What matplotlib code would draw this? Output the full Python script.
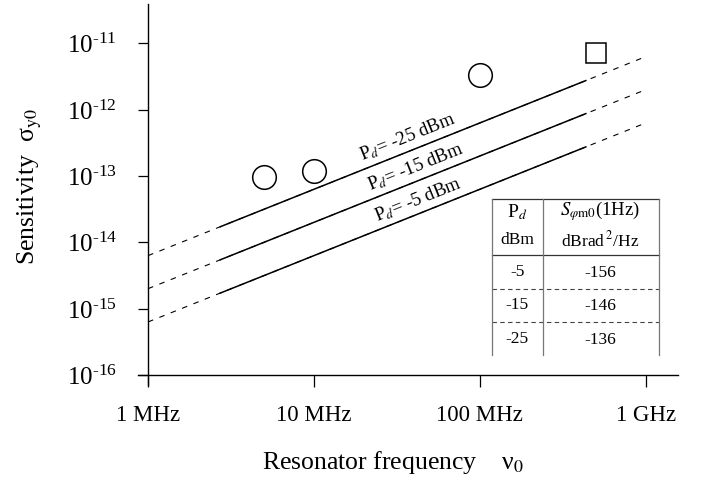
import numpy as np
import matplotlib
matplotlib.use("Agg")
import matplotlib.pyplot as plt

plt.rcParams['font.family'] = ['Liberation Serif', 'STIXGeneral', 'DejaVu Sans']
plt.rcParams['mathtext.fontset'] = 'stix'

# ---------------- data ----------------
power_dbm = [-25, -15, -5]
line_coef = [6.3e-21, 2.0e-21, 6.3e-22]        # sigma = coef * nu
nu_dashed = [1.0e6, 9.7e8]
nu_solid = [2.7e6, 4.4e8]
label_nu = [1.97e7, 2.18e7, 2.40e7]

circle_nu = [5.0e6, 1.0e7, 1.0e8]
circle_sigma = [9.8e-14, 1.2e-13, 3.35e-12]
square_nu = [5.0e8]
square_sigma = [7.1e-12]

xtick_vals = [1e6, 1e7, 1e8, 1e9]
xtick_labels = ['1 MHz', '10 MHz', '100 MHz', '1 GHz']
ytick_vals = [1e-16, 1e-15, 1e-14, 1e-13, 1e-12, 1e-11]
ytick_exps = ['-16', '-15', '-14', '-13', '-12', '-11']

table_pd = ['-5', '-15', '-25']
table_s = ['-156', '-146', '-136']

# ---------------- figure ----------------
W, H = 702, 482
fig = plt.figure(figsize=(W / 100, H / 100), dpi=100)
ax_l, ax_r, ax_t, ax_b = 138, 678, 4, 385
ax = fig.add_axes([ax_l / W, 1 - ax_b / H, (ax_r - ax_l) / W, (ax_b - ax_t) / H])
ax.set_xscale('log')
ax.set_yscale('log')
xdec, ydec = 165.9, 66.3
ax.set_xlim(10 ** (6 - 10 / xdec), 10 ** (6 + 530 / xdec))
ax.set_ylim(10 ** (-16 - 10 / ydec), 10 ** (-11 + 39.3 / ydec))

for s in ['top', 'right']:
    ax.spines[s].set_visible(False)
ax.spines['left'].set_position(('data', 1e6))
ax.spines['bottom'].set_position(('data', 1e-16))
for s in ['left', 'bottom']:
    ax.spines[s].set_linewidth(1.0)

ax.set_xticks(xtick_vals)
ax.set_xticklabels(xtick_labels)
ax.set_yticks(ytick_vals)
ax.set_yticklabels(['10$^{\\mathregular{' + e.replace('-', '\u2010') + '}}$' for e in ytick_exps])
ax.minorticks_off()
ax.tick_params(axis='x', length=8.5, width=0.9, pad=13, labelsize=16.5, direction='out')
ax.tick_params(axis='y', length=7.2, width=0.9, pad=15, labelsize=18, direction='out')

# lines
nd = np.array(nu_dashed)
ns = np.array(nu_solid)
for k in line_coef:
    ax.plot(nd, k * nd, color='black', lw=0.8, ls=(0, (5, 6)))
    ax.plot(ns, k * ns, color='black', lw=1.1, solid_capstyle='butt')

# markers
ax.plot(circle_nu, circle_sigma, 'o', ms=17, mfc='none', mec='black', mew=1.1)
ax.plot(square_nu, square_sigma, 's', ms=15, mfc='none', mec='black', mew=1.1)

# rotated labels along lines
p1 = ax.transData.transform((1e6, 1e-15))
p2 = ax.transData.transform((1e8, 1e-13))
angle = np.degrees(np.arctan2(p2[1] - p1[1], p2[0] - p1[0]))
for p, k, n in zip(power_dbm, line_coef, label_nu):
    ax.text(n, k * n * 10 ** (9 / ydec), f"P$_d$= {p} dBm", rotation=angle,
            rotation_mode='anchor', ha='left', va='baseline', fontsize=13.5)

# table (axes-fraction layout)
def fx(px):
    return (px - ax_l) / (ax_r - ax_l)

def fy(py):
    return (ax_b - py) / (ax_b - ax_t)

tl, tm, tr = fx(492.3), fx(542.5), fx(658.5)
tt, th, td1, td2, tb = fy(199), fy(255), fy(289.3), fy(321.7), fy(355)
ax.plot([tl, tr], [tt, tt], transform=ax.transAxes, color='#333333', lw=0.9)
ax.plot([tl, tr], [th, th], transform=ax.transAxes, color='#333333', lw=0.9)
for yy in (td1, td2):
    ax.plot([tl, tr], [yy, yy], transform=ax.transAxes, color='#444444', lw=0.8, ls=(0, (4, 3)))
for xx in (tl, tm, tr):
    ax.plot([xx, xx], [tt, tb], transform=ax.transAxes, color='#777777', lw=0.9)

c1, c2 = (tl + tm) / 2, (tm + tr) / 2
ax.text(c1, fy(212), 'P$_d$', transform=ax.transAxes, ha='center', va='center', fontsize=14)
ax.text(c1, fy(240), 'dBm', transform=ax.transAxes, ha='center', va='center', fontsize=12.5)
ax.text(c2, fy(211), r'$S_{\varphi\mathrm{m0}}$(1Hz)', transform=ax.transAxes,
        ha='center', va='center', fontsize=13.5)
ax.text(c2, fy(240), r'dBrad$\,^{2}$/Hz', transform=ax.transAxes, ha='center', va='center', fontsize=12.5)
row_y = [272, 305, 339]
for a, b, ry in zip(table_pd, table_s, row_y):
    ax.text(c1, fy(ry), a, transform=ax.transAxes, ha='center', va='center', fontsize=12.5)
    ax.text(c2, fy(ry + 1), b, transform=ax.transAxes, ha='center', va='center', fontsize=12.5)

# axis labels
fig.text(393 / W, 1 - 463 / H, 'Resonator frequency    ν$_0$', ha='center', va='center', fontsize=18.5)
fig.text(30 / W, 1 - 187 / H, r'Sensitivity  σ$_{\mathrm{y0}}$', ha='center', va='center',
         rotation=90, fontsize=18.5)

fig.savefig('out.png', dpi=100)
